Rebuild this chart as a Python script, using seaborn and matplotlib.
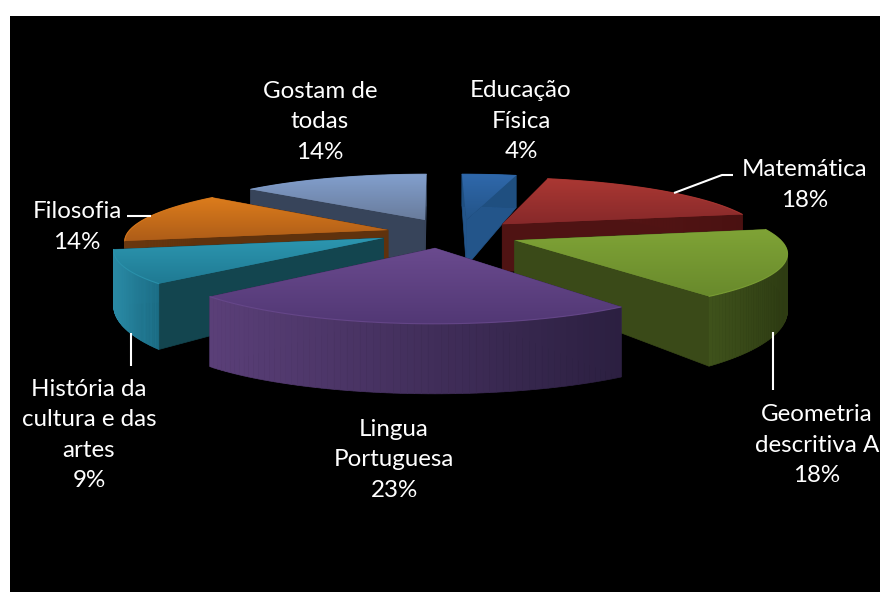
import numpy as np
import matplotlib
matplotlib.use("Agg")
import matplotlib.pyplot as plt
import matplotlib.transforms as mtrans
from matplotlib.colors import to_rgb, LinearSegmentedColormap
import seaborn as sns

labels = ["Educação\nFísica\n4%", "Matemática\n18%", "Geometria\ndescritiva A\n18%",
          "Lingua\nPortuguesa\n23%", "História da\ncultura e das\nartes\n9%",
          "Filosofia\n14%", "Gostam de\ntodas\n14%"]
values = [4, 18, 18, 23, 9, 14, 14]

# look of each slice: top gradient, cut face, outer wall gradient
top_hi = ["#2f68ab", "#ab3833", "#7fa336", "#6a4a8e", "#2c96b0", "#dc7c1c", "#829fcd"]
top_lo = ["#235488", "#87292a", "#698a2c", "#523875", "#1f7a93", "#ae5d18", "#697c9c"]
cut_col = ["#23558a", "#4f1313", "#3a4a18", "#3a2a55", "#13454f", "#5f320d", "#37445a"]
wall_l = ["#1f4f80", "#5a1616", "#3f521b", "#5a3f78", "#2a8aa5", "#6a380f", "#37445a"]
wall_r = ["#1f4f80", "#4a1111", "#2e3c13", "#2b1f40", "#1c6f88", "#5f320d", "#37445a"]
offsets = [(0.125, 0.271), (0.265, 0.19), (0.30, -0.09), (0.0, -0.218),
           (-0.195, -0.051), (-0.182, 0.087), (-0.04, 0.271)]
zorders = [3, 5, 9, 11, 7, 6, 2]
label_xy = [(521, 121), (805, 185), (817, 445), (394, 460), (89, 435), (77, 227), (320, 122)]
leaders = [([674, 722, 733], [193, 175, 175]), ([773, 773], [332, 390]),
           ([131, 131], [333, 366]), ([127, 151], [216, 216])]

CX, CY, RX, RY, K = 435, 235, 262, 58, 0.168


def project(x, y):
    s = 1 / (1 + K * y)
    return CX + RX * x * s, CY - RY * y * s


def depth(py):
    return np.clip(47 + (py - 223) * 0.31, 30, 70)


class Tilt(mtrans.Transform):
    input_dims = 2
    output_dims = 2

    def transform_non_affine(self, xy):
        xy = np.asarray(xy, float)
        px, py = project(xy[:, 0], xy[:, 1])
        return np.column_stack([px, py])


sns.set_theme(style="white")
plt.rcParams["font.family"] = ["Lato", "DejaVu Sans"]

fig = plt.figure(figsize=(8.8, 5.92), dpi=100, facecolor="white")
ax = fig.add_axes([10 / 880, 0, 870 / 880, 576 / 592])

wedges, _ = ax.pie(values, startangle=90, counterclock=False,
                   wedgeprops={"transform": Tilt() + ax.transData, "linewidth": 0})

ax.set_aspect("auto")
ax.set_frame_on(True)
ax.set_facecolor("black")
for sp in ax.spines.values():
    sp.set_visible(False)

for i, w in enumerate(wedges):
    ox, oy = offsets[i]
    w.set_center((ox, oy))
    z = zorders[i]
    th = np.radians(np.linspace(w.theta1, w.theta2, 70))
    ax_x, ax_y = project(ox + np.cos(th), oy + np.sin(th))
    tip_x, tip_y = project(ox, oy)

    # cut faces from the tip to both ends of the arc
    for j in [0, -1]:
        ax.fill([tip_x, ax_x[j], ax_x[j], tip_x],
                [tip_y, ax_y[j], ax_y[j] + depth(ax_y[j]), tip_y + depth(tip_y)],
                color=cut_col[i], lw=0.5, zorder=z)

    # outer wall, shaded along the arc
    c0, c1 = np.array(to_rgb(wall_r[i])), np.array(to_rgb(wall_l[i]))
    lo, hi = ax_x.min(), ax_x.max()
    for k in range(len(th) - 1):
        t = (ax_x[k] - lo) / max(hi - lo, 1)
        ax.fill([ax_x[k], ax_x[k + 1], ax_x[k + 1], ax_x[k]],
                [ax_y[k], ax_y[k + 1], ax_y[k + 1] + depth(ax_y[k + 1]), ax_y[k] + depth(ax_y[k])],
                color=c1 * (1 - t) + c0 * t, lw=0.5, zorder=z + 0.1)

    # top face, gradient clipped to the wedge
    xs = np.r_[tip_x, ax_x]
    ys = np.r_[tip_y, ax_y]
    w.set_zorder(z + 0.2)
    w.set_facecolor(top_lo[i])
    cmap = LinearSegmentedColormap.from_list("top", [top_hi[i], top_lo[i]])
    im = ax.imshow(np.linspace(0, 1, 64).reshape(-1, 1), cmap=cmap, aspect="auto",
                   extent=(xs.min(), xs.max(), ys.max(), ys.min()),
                   interpolation="bilinear", zorder=z + 0.3)
    im.set_clip_path(w)
    ax.plot(ax_x, ax_y, color=top_hi[i], lw=0.8, alpha=0.8, zorder=z + 0.4)

ax.set_xlim(10, 880)
ax.set_ylim(592, 16)

for lx, ly in leaders:
    ax.plot(lx, ly, color="white", lw=1.5, zorder=20, solid_capstyle="butt")

for text, (x, y) in zip(labels, label_xy):
    ax.text(x, y, text, color="white", fontsize=17.4, ha="center", va="center",
            linespacing=1.53, zorder=21)

fig.savefig("out.png", dpi=100, facecolor="white")
